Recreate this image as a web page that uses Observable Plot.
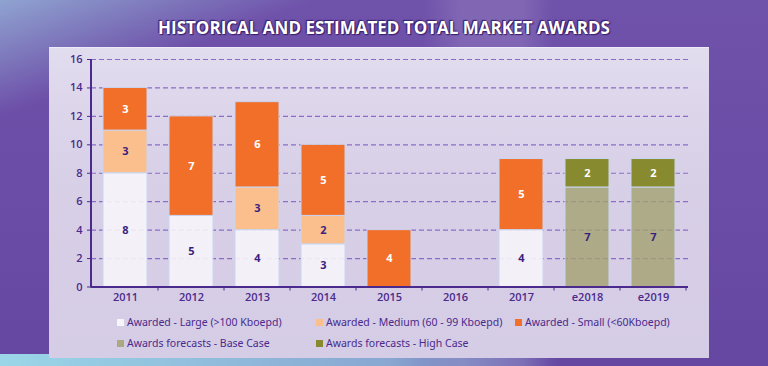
<!DOCTYPE html>
<html><head><meta charset="utf-8">
<script src="https://cdn.jsdelivr.net/npm/d3@7"></script>
<script src="https://cdn.jsdelivr.net/npm/@observablehq/plot@0.6"></script>
<style>
html,body{margin:0;padding:0;}
#wrap{position:relative;width:768px;height:366px;overflow:hidden;
 background:
  linear-gradient(160deg, rgba(170,230,240,0.55) 0%, rgba(170,230,240,0.0) 18%),
  linear-gradient(90deg, rgba(255,255,255,0) 55%, rgba(255,255,255,0.12) 60%, rgba(255,255,255,0.12) 68%, rgba(255,255,255,0) 72%),
  linear-gradient(180deg,#6f52aa 0%, #6a4ba6 60%, #6547a2 100%);
 font-family:"Open Sans",sans-serif;}
#bottomstrip{position:absolute;left:0;top:354px;width:560px;height:12px;
 background:linear-gradient(90deg,rgba(160,230,240,0.9),rgba(160,230,240,0.6) 70%,rgba(160,230,240,0));}
#title{position:absolute;left:0;top:16px;width:768px;text-align:center;color:#fff;
 font-family:"Open Sans",sans-serif;font-weight:700;font-size:17px;letter-spacing:0;
 text-shadow:0 0 2px #3a1f6e,1px 1px 1px #3a1f6e,-1px -1px 1px #3a1f6e;}
#panel{position:absolute;left:49px;top:47px;width:660px;height:311px;
 background:linear-gradient(180deg,#e2dcef 0%,#d8d0e7 40%,#d5cce5 100%);
 border-top:1px solid #efeaf7;box-sizing:border-box;}
#chart{position:absolute;left:0;top:0;}
.leg{position:absolute;font-family:"Noto Sans",sans-serif;font-size:10.5px;color:#4a2a8c;white-space:nowrap;line-height:12px;}
.leg i{display:inline-block;width:7px;height:7px;margin-right:3px;vertical-align:0px;}
</style></head>
<body>
<div id="wrap">
 <div id="bottomstrip"></div>
 <div id="panel"></div>
 <div id="title">HISTORICAL AND ESTIMATED TOTAL MARKET AWARDS</div>
 <div id="chart"></div>
 <div id="legend"></div>
</div>
<script>
const categories = ["2011","2012","2013","2014","2015","2016","2017","e2018","e2019"];
const seriesNames = ["Awarded - Large (>100 Kboepd)","Awarded - Medium (60 - 99 Kboepd)","Awarded - Small (<60Kboepd)","Awards forecasts - Base Case","Awards forecasts - High Case"];
const large  = [8,5,4,3,0,0,4,0,0];
const medium = [3,0,3,2,0,0,0,0,0];
const small  = [3,7,6,5,4,0,5,0,0];
const base   = [0,0,0,0,0,0,0,7,7];
const high   = [0,0,0,0,0,0,0,2,2];
const yTicks = [0,2,4,6,8,10,12,14,16];

const colors = ["#f7f4fa","#fbbf8e","#f26f2a","#a4a171","#878a2e"];
const opac   = [0.9,1,1,0.8,1];
const labelColors = ["#3b1f7e","#3b1f7e","#ffffff","#3b1f7e","#ffffff"];
const seriesValues = [large, medium, small, base, high];

const table = categories.flatMap((c, i) => seriesNames.map((s, k) => ({
  category: c, series: s, value: seriesValues[k][i], k
}))).filter(d => d.value > 0);

const axisColor = "#4b2a8e";
const textColor = "#4a2b8c";

const chart = Plot.plot({
  width: 768, height: 312,
  marginLeft: 91, marginRight: 80, marginTop: 59, marginBottom: 25.5,
  style: {background: "transparent", fontFamily: "'Open Sans', sans-serif", fontSize: "11px", overflow: "visible"},
  x: {domain: categories, paddingInner: 0.33, paddingOuter: 0.165, axis: null, label: null},
  y: {domain: [0, 16], axis: null, label: null},
  color: {domain: seriesNames, range: colors},
  marks: [
    Plot.gridY(yTicks.filter(d => d > 0), {stroke: "#8a6cc6", strokeOpacity: 1, strokeWidth: 1.2, strokeDasharray: "5,3"}),
    Plot.barY(table, {x: "category", y: "value", fill: d => colors[d.k], fillOpacity: d => opac[d.k], stroke: "#c9d6f2", strokeWidth: 1}),
    Plot.text(table, Plot.stackY({x: "category", y: "value", text: d => String(d.value), fill: d => labelColors[d.k], fontWeight: 700, fontSize: 11})),
    Plot.axisY({ticks: yTicks, tickSize: 4, tickPadding: 5, stroke: axisColor, fill: textColor, fontSize: 11, fontWeight: 600}),
    Plot.axisX({tickSize: 0, tickPadding: 6, fill: textColor, fontSize: 11, fontWeight: 600}),
    Plot.ruleY([0], {stroke: axisColor, strokeWidth: 2}),
    (index, scales, values, dimensions) => {
      const g = d3.create("svg:g");
      const x = scales.x, y = scales.y;
      const x0 = dimensions.marginLeft;
      g.append("line").attr("x1", x0).attr("x2", x0).attr("y1", y(0) + 1).attr("y2", y(16))
        .attr("stroke", axisColor).attr("stroke-width", 2);
      const step = x.step(), bw = x.bandwidth();
      categories.forEach(c => {
        const xb = x(c) + bw + (step - bw) / 2;
        g.append("line").attr("x1", xb).attr("x2", xb).attr("y1", y(0)).attr("y2", y(0) + 4)
          .attr("stroke", axisColor).attr("stroke-width", 1);
      });
      return g.node();
    }
  ]
});
document.getElementById("chart").appendChild(chart);

// legend
const legendPos = [[117,316,515],[117,316]];
const legend = document.getElementById("legend");
seriesNames.forEach((s, k) => {
  const row = k < 3 ? 0 : 1;
  const col = k < 3 ? k : k - 3;
  const el = document.createElement("div");
  el.className = "leg";
  el.style.left = legendPos[row][col] + "px";
  el.style.top = (row === 0 ? 316 : 337) + "px";
  el.innerHTML = `<i style="background:${colors[k]};opacity:${k===3?0.85:1}"></i>`;
  el.appendChild(document.createTextNode(s));
  legend.appendChild(el);
});
</script>
</body></html>
